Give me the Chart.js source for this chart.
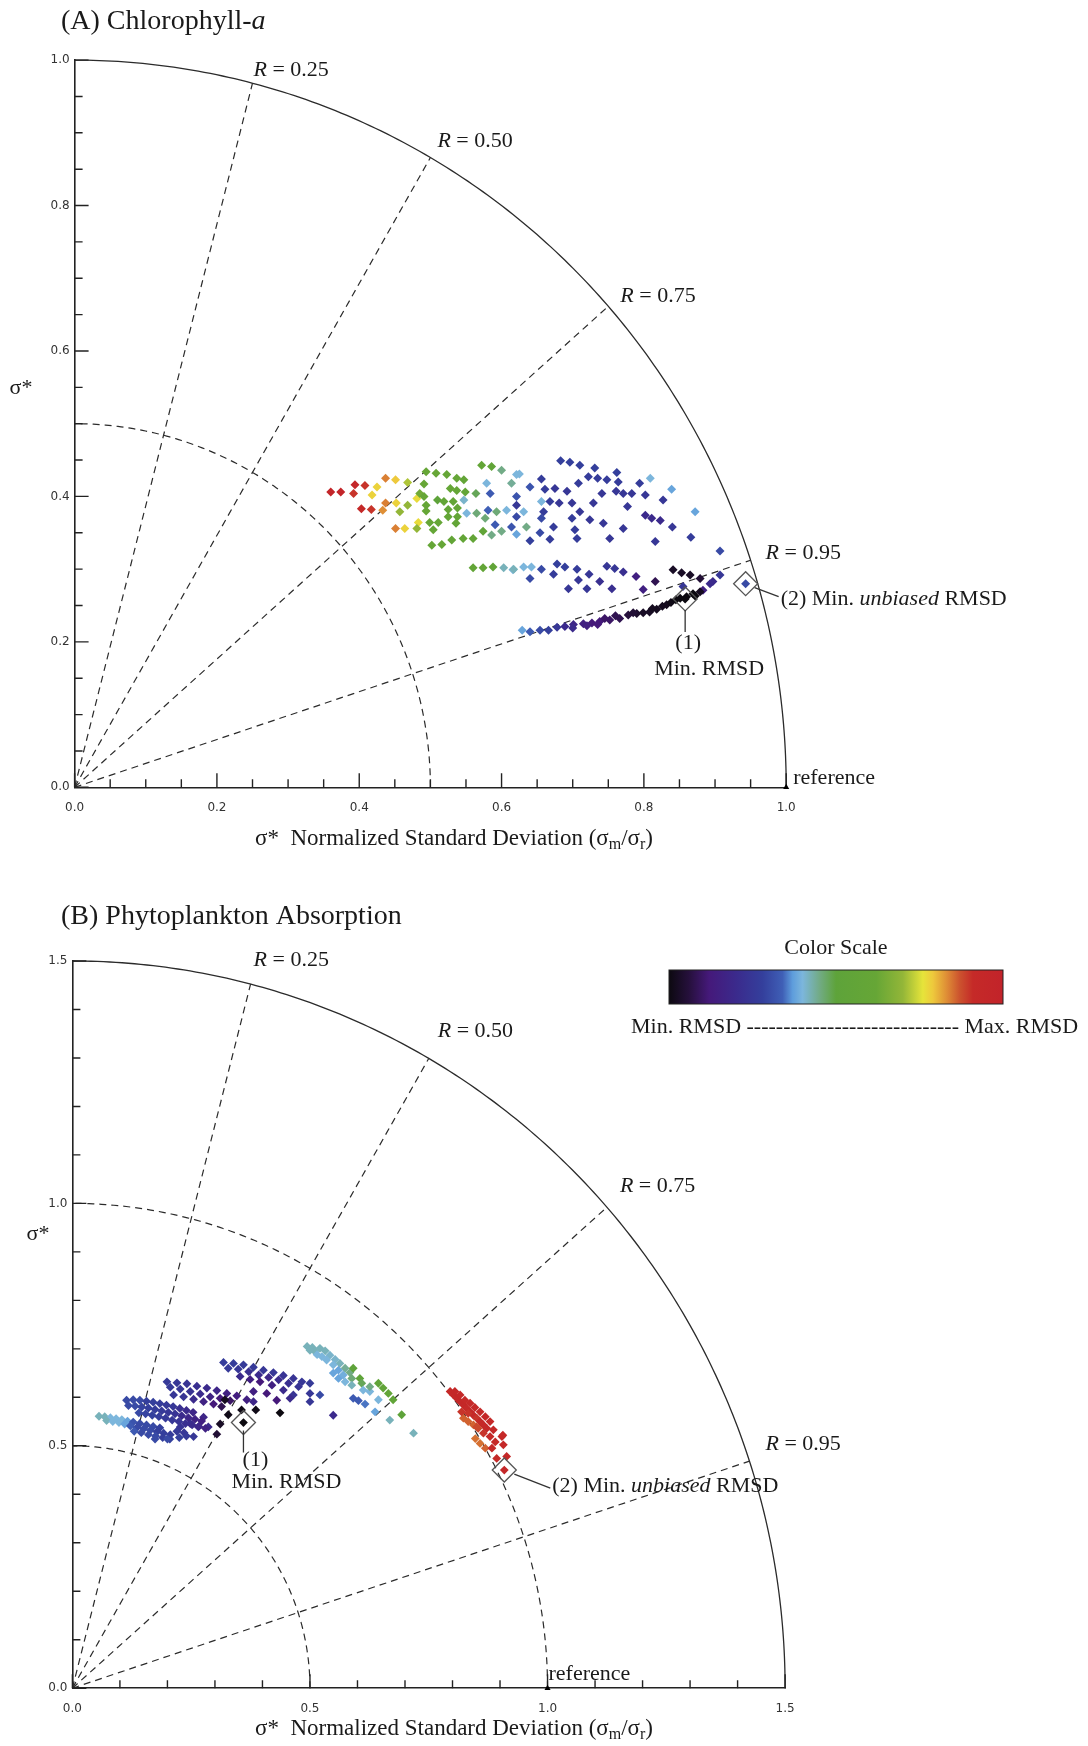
<!DOCTYPE html>
<html>
<head>
<meta charset="utf-8">
<title>Taylor diagrams – Chlorophyll-a / Phytoplankton Absorption</title>
<script src="https://cdn.jsdelivr.net/npm/chart.js@4.4.0/dist/chart.umd.min.js"></script>
<style>
  html, body { margin: 0; padding: 0; background: #fff; }
  .panel { position: absolute; left: 0; width: 1088px; }
  #panelA { top: 0; height: 870px; }
  #panelB { top: 870px; height: 876px; }
</style>
</head>
<body>
<div class="panel" id="panelA"><canvas id="chlChart" width="1088" height="870"></canvas></div>
<div class="panel" id="panelB"><canvas id="absChart" width="1088" height="876"></canvas></div>
<script>
// ============================================================
// Taylor diagrams: normalized std-dev vs correlation, coloured by RMSD
// ============================================================

// correlation rays and std-dev reference arcs
const CORRELATION_LEVELS = [0.25, 0.50, 0.75, 0.95];
const chlSigmaArcs = [0.5];
const absSigmaArcs = [0.5, 1.0];
const chlTickLabels = ['0.0', '0.2', '0.4', '0.6', '0.8', '1.0'];
const absTickLabels = ['0.0', '0.5', '1.0', '1.5'];

// RMSD colour scale (0 = min RMSD, 1 = max RMSD)
const COLOR_STOPS = [
  [0.00, '#0c0910'], [0.06, '#26103c'], [0.12, '#45197a'], [0.20, '#3b2a8c'],
  [0.28, '#343f9c'], [0.34, '#3f5fb6'], [0.37, '#5e9ddc'], [0.40, '#7cb6dc'],
  [0.45, '#72ab86'], [0.50, '#5ea33a'], [0.62, '#66a636'], [0.70, '#93b638'],
  [0.76, '#e6e43a'], [0.79, '#eec93c'], [0.83, '#df8f36'], [0.87, '#cc532e'],
  [0.91, '#c52a28'], [1.00, '#c2232a']
];

// ---- (A) Chlorophyll-a : [x, y, rmsd level] ----
const chlUpper = [
  [0.360,0.406,0.97],[0.374,0.406,0.97],[0.394,0.416,0.95],[0.408,0.415,0.90],[0.392,0.404,0.90],
  [0.403,0.383,0.93],[0.417,0.382,0.90],[0.437,0.425,0.84],[0.451,0.423,0.79],[0.425,0.413,0.78],
  [0.418,0.402,0.78],[0.437,0.391,0.84],[0.433,0.381,0.83],[0.452,0.391,0.78],[0.451,0.356,0.84],
  [0.464,0.356,0.78],[0.468,0.419,0.72],[0.457,0.379,0.70],[0.468,0.388,0.70],[0.481,0.397,0.77],
  [0.483,0.364,0.77],[0.481,0.356,0.70],[0.494,0.434,0.62],[0.508,0.432,0.62],[0.491,0.417,0.62],
  [0.485,0.404,0.64],[0.491,0.400,0.62],[0.494,0.388,0.60],[0.494,0.380,0.60],[0.499,0.364,0.60],
  [0.511,0.364,0.60],[0.504,0.354,0.60],[0.502,0.333,0.60],[0.516,0.334,0.60],[0.523,0.430,0.60],
  [0.537,0.425,0.60],[0.547,0.423,0.58],[0.528,0.411,0.60],[0.537,0.408,0.60],[0.549,0.406,0.58],
  [0.510,0.395,0.50],[0.519,0.393,0.58],[0.532,0.393,0.58],[0.525,0.382,0.58],[0.538,0.384,0.58],
  [0.525,0.372,0.58],[0.538,0.372,0.58],[0.536,0.363,0.58],[0.530,0.340,0.58],[0.546,0.342,0.58],
  [0.560,0.342,0.58],[0.572,0.443,0.58],[0.586,0.441,0.55],[0.600,0.436,0.45],[0.564,0.404,0.48],
  [0.547,0.395,0.41],[0.579,0.418,0.40],[0.584,0.404,0.33],[0.551,0.377,0.40],[0.565,0.377,0.46],
  [0.581,0.381,0.34],[0.593,0.379,0.46],[0.577,0.370,0.46],[0.591,0.361,0.33],[0.574,0.352,0.55],
  [0.586,0.347,0.45],[0.600,0.352,0.45],[0.621,0.430,0.40],[0.614,0.418,0.44],[0.621,0.400,0.32],
  [0.621,0.388,0.25],[0.607,0.381,0.40],[0.621,0.372,0.30],[0.614,0.358,0.32],
  [0.683,0.449,0.28],[0.696,0.447,0.28],[0.710,0.443,0.28],[0.731,0.439,0.28],[0.762,0.433,0.28],
  [0.625,0.431,0.40],[0.656,0.424,0.27],[0.722,0.427,0.27],[0.735,0.425,0.27],[0.748,0.423,0.27],
  [0.764,0.420,0.27],[0.794,0.418,0.27],[0.809,0.425,0.40],[0.708,0.418,0.27],[0.675,0.411,0.25],
  [0.661,0.410,0.27],[0.640,0.413,0.32],[0.692,0.407,0.25],[0.761,0.407,0.25],[0.771,0.404,0.25],
  [0.783,0.404,0.25],[0.741,0.404,0.25],[0.802,0.402,0.25],[0.839,0.410,0.38],[0.656,0.393,0.40],
  [0.668,0.393,0.27],[0.681,0.391,0.25],[0.699,0.391,0.25],[0.729,0.391,0.25],[0.777,0.386,0.25],
  [0.827,0.395,0.25],[0.872,0.379,0.38],[0.631,0.379,0.40],[0.659,0.379,0.27],[0.710,0.379,0.25],
  [0.802,0.374,0.20],[0.811,0.370,0.20],[0.823,0.367,0.20],[0.699,0.370,0.27],[0.724,0.368,0.25],
  [0.743,0.363,0.25],[0.656,0.370,0.30],[0.635,0.358,0.45],[0.673,0.358,0.27],[0.703,0.354,0.27],
  [0.771,0.356,0.25],[0.840,0.358,0.25],[0.621,0.348,0.38],[0.654,0.350,0.30],[0.640,0.339,0.28],
  [0.668,0.341,0.27],[0.706,0.342,0.27],[0.752,0.342,0.25],[0.816,0.338,0.25],[0.866,0.344,0.27],
  [0.907,0.325,0.30]
];
const chlMiddle = [
  [0.560,0.302,0.58],[0.574,0.302,0.58],[0.588,0.303,0.55],[0.603,0.302,0.42],[0.616,0.299,0.40],
  [0.617,0.300,0.42],[0.631,0.303,0.40],[0.642,0.303,0.40],[0.656,0.300,0.30],[0.678,0.307,0.28],
  [0.689,0.303,0.28],[0.706,0.300,0.27],[0.640,0.287,0.30],[0.673,0.293,0.27],[0.723,0.293,0.25],
  [0.748,0.304,0.25],[0.759,0.301,0.25],[0.771,0.296,0.22],[0.708,0.285,0.25],[0.738,0.283,0.22],
  [0.694,0.273,0.25],[0.720,0.273,0.25],[0.755,0.273,0.22],[0.789,0.290,0.15],[0.799,0.272,0.15],
  [0.816,0.283,0.08],[0.841,0.299,0.03],[0.853,0.295,0.03],[0.865,0.292,0.03],[0.879,0.287,0.05],
  [0.907,0.292,0.25],[0.893,0.280,0.20],[0.883,0.271,0.15],[0.855,0.276,0.25],[0.897,0.283,0.20]
];
const chlLower = [
  [0.629,0.216,0.38],[0.640,0.214,0.33],[0.654,0.216,0.30],[0.666,0.216,0.28],[0.678,0.220,0.25],
  [0.689,0.221,0.20],[0.701,0.224,0.18],[0.715,0.225,0.15],[0.727,0.226,0.12],[0.738,0.228,0.12],
  [0.752,0.230,0.10],[0.766,0.232,0.08],[0.778,0.237,0.06],[0.790,0.239,0.04],[0.799,0.240,0.03],
  [0.808,0.241,0.03],[0.818,0.245,0.02],[0.832,0.251,0.02],[0.851,0.260,0.00],[0.860,0.262,0.00],
  [0.869,0.266,0.00],[0.879,0.269,0.02],[0.745,0.232,0.10],[0.760,0.236,0.08],[0.785,0.240,0.05],
  [0.812,0.246,0.02],[0.826,0.249,0.02],[0.838,0.254,0.01],[0.845,0.258,0.00],[0.872,0.263,0.00],
  [0.700,0.219,0.20],[0.720,0.222,0.15],[0.735,0.224,0.12],[0.858,0.259,0.00],[0.943,0.280,0.30]
];
const chlMinRmsd = [0.858, 0.259];
const chlMinUnbiased = [0.943, 0.280];

// ---- (B) Phytoplankton absorption : [x, y, rmsd level] ----
const absMain = [
  [0.056,0.561,0.42],[0.068,0.560,0.42],[0.080,0.558,0.40],[0.092,0.556,0.40],[0.104,0.554,0.40],
  [0.116,0.551,0.38],[0.072,0.552,0.42],[0.085,0.550,0.40],[0.098,0.548,0.40],[0.110,0.545,0.38],
  [0.128,0.549,0.32],[0.142,0.546,0.30],[0.156,0.543,0.30],[0.170,0.540,0.30],[0.184,0.537,0.28],
  [0.122,0.541,0.33],[0.136,0.538,0.30],[0.150,0.535,0.30],[0.164,0.532,0.30],[0.178,0.529,0.28],
  [0.192,0.526,0.28],[0.206,0.523,0.27],[0.130,0.530,0.33],[0.145,0.527,0.30],[0.160,0.523,0.30],
  [0.175,0.520,0.30],[0.190,0.517,0.28],[0.205,0.514,0.28],[0.174,0.514,0.30],[0.200,0.514,0.30],
  [0.225,0.517,0.28],[0.255,0.519,0.25],[0.220,0.530,0.26],[0.235,0.527,0.25],[0.227,0.539,0.24],
  [0.248,0.546,0.22],[0.265,0.539,0.20],[0.276,0.559,0.18],[0.286,0.539,0.20],[0.240,0.520,0.26],
  [0.114,0.594,0.30],[0.128,0.595,0.30],[0.142,0.594,0.30],[0.156,0.592,0.28],[0.170,0.590,0.28],
  [0.184,0.587,0.27],[0.198,0.584,0.26],[0.212,0.581,0.25],[0.226,0.577,0.22],[0.240,0.573,0.20],
  [0.254,0.569,0.18],[0.118,0.583,0.30],[0.132,0.582,0.30],[0.146,0.580,0.29],[0.160,0.578,0.28],
  [0.174,0.575,0.27],[0.188,0.572,0.26],[0.202,0.569,0.25],[0.216,0.566,0.24],[0.230,0.562,0.20],
  [0.244,0.558,0.18],[0.258,0.555,0.16],[0.272,0.551,0.15],[0.140,0.568,0.30],[0.154,0.566,0.29],
  [0.168,0.563,0.28],[0.182,0.560,0.27],[0.196,0.557,0.26],[0.210,0.553,0.25],[0.224,0.550,0.24],
  [0.238,0.546,0.22],[0.252,0.543,0.20],[0.266,0.540,0.18],[0.280,0.536,0.16],
  [0.199,0.632,0.26],[0.220,0.630,0.25],[0.241,0.628,0.24],[0.262,0.623,0.22],[0.283,0.619,0.20],
  [0.304,0.614,0.18],[0.325,0.608,0.15],[0.346,0.603,0.14],[0.367,0.595,0.15],[0.381,0.591,0.18],
  [0.206,0.621,0.26],[0.227,0.617,0.25],[0.248,0.612,0.23],[0.269,0.607,0.20],[0.290,0.601,0.16],
  [0.311,0.598,0.12],[0.332,0.593,0.10],[0.213,0.605,0.25],[0.234,0.601,0.24],[0.255,0.596,0.20],
  [0.276,0.591,0.16],[0.297,0.586,0.12],[0.314,0.581,0.08],
  [0.321,0.595,0.02],[0.356,0.574,0.01],[0.386,0.574,0.01],[0.437,0.568,0.00],[0.328,0.564,0.01],
  [0.311,0.545,0.03],[0.304,0.524,0.05],[0.360,0.548,0.00],
  [0.318,0.672,0.27],[0.339,0.670,0.27],[0.360,0.667,0.26],[0.381,0.662,0.26],[0.402,0.656,0.25],
  [0.423,0.651,0.25],[0.444,0.645,0.24],[0.465,0.639,0.24],[0.483,0.632,0.25],[0.500,0.629,0.26],
  [0.328,0.660,0.26],[0.349,0.658,0.25],[0.371,0.653,0.22],[0.392,0.646,0.20],[0.413,0.641,0.18],
  [0.434,0.636,0.20],[0.455,0.629,0.22],[0.476,0.622,0.24],[0.353,0.643,0.20],[0.374,0.637,0.15],
  [0.395,0.632,0.12],[0.420,0.625,0.15],[0.444,0.615,0.20],[0.465,0.605,0.24],[0.500,0.608,0.25],
  [0.521,0.605,0.30],[0.500,0.591,0.25],[0.381,0.612,0.15],[0.409,0.608,0.12],[0.430,0.594,0.12],
  [0.458,0.598,0.20],[0.549,0.563,0.20]
];
const absCyan = [
  [0.494,0.705,0.42],[0.505,0.703,0.42],[0.510,0.695,0.42],[0.515,0.688,0.40],[0.500,0.697,0.42],
  [0.521,0.701,0.42],[0.532,0.696,0.42],[0.542,0.687,0.41],[0.553,0.678,0.41],[0.563,0.670,0.42],
  [0.574,0.660,0.44],[0.584,0.651,0.45],[0.525,0.684,0.40],[0.535,0.677,0.40],[0.549,0.667,0.40],
  [0.560,0.656,0.38],[0.570,0.646,0.39],[0.588,0.639,0.46],[0.549,0.650,0.38],[0.560,0.639,0.38],
  [0.574,0.632,0.40],[0.588,0.625,0.42],[0.591,0.660,0.50],[0.605,0.639,0.52],[0.609,0.629,0.48],
  [0.644,0.629,0.55],[0.654,0.619,0.55],[0.665,0.608,0.56],[0.675,0.595,0.55],[0.693,0.564,0.50],
  [0.591,0.598,0.33],[0.602,0.593,0.33],[0.616,0.586,0.35],[0.637,0.570,0.38],[0.612,0.615,0.40],
  [0.626,0.612,0.40],[0.644,0.595,0.40],[0.668,0.553,0.42],[0.718,0.526,0.42],[0.626,0.622,0.45]
];
const absRed = [
  [0.795,0.612,0.92],[0.802,0.605,0.92],[0.809,0.598,0.93],[0.816,0.591,0.93],[0.823,0.584,0.93],
  [0.830,0.577,0.92],[0.837,0.570,0.92],[0.844,0.563,0.92],[0.851,0.557,0.90],[0.858,0.550,0.92],
  [0.865,0.543,0.92],[0.872,0.536,0.93],[0.805,0.612,0.93],[0.816,0.605,0.93],[0.826,0.594,0.92],
  [0.837,0.588,0.92],[0.847,0.579,0.92],[0.858,0.570,0.92],[0.869,0.560,0.93],[0.879,0.550,0.92],
  [0.886,0.533,0.93],[0.904,0.519,0.93],[0.907,0.502,0.93],[0.890,0.508,0.92],[0.914,0.478,0.93],
  [0.893,0.474,0.92],[0.906,0.522,0.92],[0.823,0.557,0.86],[0.833,0.550,0.86],[0.844,0.543,0.86],
  [0.854,0.536,0.88],[0.848,0.515,0.85],[0.858,0.505,0.85],[0.869,0.495,0.86],[0.819,0.570,0.90],
  [0.833,0.567,0.90],[0.851,0.539,0.88],[0.865,0.526,0.90],[0.879,0.519,0.92],[0.883,0.495,0.93],
  [0.909,0.450,0.95]
];
const absMinRmsd = [0.360, 0.548];
const absMinUnbiased = [0.909, 0.450];

const SERIF = "'Liberation Serif', 'Times New Roman', serif";

// ---- colour utilities ----
function hexToRgb(h) {
  const n = parseInt(h.slice(1), 16);
  return [(n >> 16) & 255, (n >> 8) & 255, n & 255];
}
function rmsdColor(t) {
  for (let i = 1; i < COLOR_STOPS.length; i++) {
    const [t1, c1] = COLOR_STOPS[i];
    if (t <= t1) {
      const [t0, c0] = COLOR_STOPS[i - 1];
      const f = (t - t0) / (t1 - t0);
      const a = hexToRgb(c0), b = hexToRgb(c1);
      return `rgb(${a.map((v, k) => Math.round(v + (b[k] - v) * f)).join(',')})`;
    }
  }
  return COLOR_STOPS[COLOR_STOPS.length - 1][1];
}

// ---- text helpers ----
function drawRuns(ctx, runs, x, y, align) {
  // runs: [text, italic, sizePx, dy]
  let w = 0;
  runs.forEach(r => { ctx.font = `${r[1] ? 'italic ' : ''}${r[2]}px ${SERIF}`; w += ctx.measureText(r[0]).width; });
  let cx = align === 'center' ? x - w / 2 : x;
  ctx.textAlign = 'left';
  runs.forEach(r => {
    ctx.font = `${r[1] ? 'italic ' : ''}${r[2]}px ${SERIF}`;
    ctx.fillText(r[0], cx, y + (r[3] || 0));
    cx += ctx.measureText(r[0]).width;
  });
}

// ---- Taylor frame plugin: arcs, rays, inward ticks, labels ----
const taylorFrame = {
  id: 'taylorFrame',
  beforeDatasetsDraw(chart, args, o) {
    const { ctx, chartArea } = chart;
    const xs = chart.scales.x, ys = chart.scales.y;
    const P = (x, y) => [xs.getPixelForValue(x), ys.getPixelForValue(y)];
    const arc = r => {
      ctx.beginPath();
      for (let i = 0; i <= 180; i++) {
        const th = (Math.PI / 2) * i / 180;
        const [px, py] = P(r * Math.cos(th), r * Math.sin(th));
        if (i === 0) ctx.moveTo(px, py); else ctx.lineTo(px, py);
      }
      ctx.stroke();
    };
    ctx.save();
    ctx.strokeStyle = '#2b2b2b';
    ctx.lineWidth = 1.2;
    ctx.setLineDash([7, 5]);
    o.sigmaArcs.forEach(arc);
    o.correlations.forEach(R => {
      const th = Math.acos(R);
      const [x0, y0] = P(0, 0);
      const [x1, y1] = P(o.rMax * Math.cos(th), o.rMax * Math.sin(th));
      ctx.beginPath(); ctx.moveTo(x0, y0); ctx.lineTo(x1, y1); ctx.stroke();
    });
    ctx.setLineDash([]);
    ctx.lineWidth = 1.3;
    arc(o.rMax);

    // inward tick marks on both axes
    ctx.strokeStyle = '#222';
    ctx.lineWidth = 1.4;
    const n = Math.round(o.rMax / o.minorStep);
    const every = Math.round(o.majorStep / o.minorStep);
    for (let i = 0; i <= n; i++) {
      const v = i * o.minorStep;
      const len = i % every === 0 ? 14 : 8;
      const px = xs.getPixelForValue(v), py = ys.getPixelForValue(v);
      ctx.beginPath();
      ctx.moveTo(px, chartArea.bottom); ctx.lineTo(px, chartArea.bottom - len);
      ctx.moveTo(chartArea.left, py); ctx.lineTo(chartArea.left + len, py);
      ctx.stroke();
    }
    ctx.restore();
  },
  afterDatasetsDraw(chart, args, o) {
    const { ctx } = chart;
    const xs = chart.scales.x, ys = chart.scales.y;
    const P = (x, y) => [xs.getPixelForValue(x), ys.getPixelForValue(y)];
    ctx.save();
    ctx.fillStyle = '#1a1a1a';
    ctx.strokeStyle = '#333';
    ctx.textBaseline = 'middle';

    // panel title
    drawRuns(ctx, o.title.map(t => [t[0], t[1], 28]), o.titlePos[0], o.titlePos[1], 'left');

    // correlation labels at the ends of the rays
    o.correlations.forEach((R, i) => {
      const th = Math.acos(R);
      const [ex, ey] = P(o.rMax * Math.cos(th), o.rMax * Math.sin(th));
      const [dx, dy] = o.rLabelOffsets[i];
      drawRuns(ctx, [['R', true, 22], [' = ' + R.toFixed(2), false, 22]], ex + dx, ey + dy, 'left');
    });

    // reference point label
    const [rx, ry] = P(1, 0);
    drawRuns(ctx, [['reference', false, 22]], rx + o.refLabelOffset[0], ry + o.refLabelOffset[1], 'left');

    // (1) minimum RMSD
    const m = o.minMark;
    const [mx, my] = P(m.pt[0], m.pt[1]);
    ctx.lineWidth = 1.3;
    ctx.beginPath();
    ctx.moveTo(mx + m.lead[0][0], my + m.lead[0][1]);
    ctx.lineTo(mx + m.lead[1][0], my + m.lead[1][1]);
    ctx.stroke();
    drawRuns(ctx, [['(1)', false, 22]], mx + m.num[0], my + m.num[1], 'center');
    drawRuns(ctx, [['Min. RMSD', false, 22]], mx + m.text[0], my + m.text[1], 'center');

    // (2) minimum unbiased RMSD
    const u = o.unbMark;
    const [ux, uy] = P(u.pt[0], u.pt[1]);
    ctx.beginPath();
    ctx.moveTo(ux + u.lead[0][0], uy + u.lead[0][1]);
    ctx.lineTo(ux + u.lead[1][0], uy + u.lead[1][1]);
    ctx.stroke();
    drawRuns(ctx, [['(2) Min. ', false, 22], ['unbiased', true, 22], [' RMSD', false, 22]],
      ux + u.text[0], uy + u.text[1], 'left');

    // axis titles
    drawRuns(ctx, [['σ*', false, 22]], o.yTitlePos[0], o.yTitlePos[1], 'center');
    drawRuns(ctx, [
      ['σ*  Normalized Standard Deviation (σ', false, 23],
      ['m', false, 16, 6], ['/σ', false, 23], ['r', false, 16, 6], [')', false, 23]
    ], o.xTitlePos[0], o.xTitlePos[1], 'center');

    // colour scale legend
    if (o.colorBar) {
      const b = o.colorBar;
      const g = ctx.createLinearGradient(b.x0, 0, b.x1, 0);
      COLOR_STOPS.forEach(([t, c]) => g.addColorStop(t, c));
      ctx.fillStyle = g;
      ctx.fillRect(b.x0, b.y0, b.x1 - b.x0, b.y1 - b.y0);
      ctx.lineWidth = 1;
      ctx.strokeStyle = '#222';
      ctx.strokeRect(b.x0, b.y0, b.x1 - b.x0, b.y1 - b.y0);
      ctx.fillStyle = '#1a1a1a';
      drawRuns(ctx, [['Color Scale', false, 22]], (b.x0 + b.x1) / 2, b.y0 - 22, 'center');
      drawRuns(ctx, [['Min. RMSD ' + '-'.repeat(29) + ' Max. RMSD', false, 22]], b.textX, b.y1 + 23, 'left');
    }
    ctx.restore();
  }
};

function buildChart(canvasId, cfg) {
  const all = cfg.points;
  const tickFont = { family: "'DejaVu Sans', sans-serif", size: 12 };
  const scale = (labels, yAxis) => ({
    type: 'linear',
    min: 0,
    max: cfg.rMax,
    border: { display: true, color: '#222', width: 1.6 },
    grid: { display: false, drawTicks: false },
    ticks: {
      stepSize: cfg.majorStep,
      autoSkip: false,
      maxRotation: 0,
      padding: yAxis ? 5 : 13,
      color: '#333',
      font: tickFont,
      callback: (v, i) => labels[i]
    },
    afterFit: yAxis ? s => { s.width = cfg.area.left; } : s => { s.height = 40; }
  });
  return new Chart(document.getElementById(canvasId), {
    type: 'scatter',
    data: {
      datasets: [
        {
          // hollow markers around the two best runs
          data: [cfg.minRmsd, cfg.minUnbiased].map(([x, y]) => ({ x, y })),
          pointStyle: 'rectRot',
          pointRadius: 12,
          pointBackgroundColor: 'rgba(0,0,0,0)',
          pointBorderColor: '#555',
          pointBorderWidth: 1.3,
          clip: false
        },
        {
          data: all.map(([x, y]) => ({ x, y })),
          pointStyle: 'rectRot',
          pointRadius: cfg.markerRadius,
          pointBackgroundColor: all.map(p => rmsdColor(p[2])),
          pointBorderWidth: 0,
          clip: false
        },
        {
          // reference point on the x axis
          data: [{ x: 1, y: 0 }],
          pointStyle: 'triangle',
          pointRadius: 3.5,
          pointBackgroundColor: '#000',
          pointBorderWidth: 0,
          clip: false
        }
      ]
    },
    options: {
      responsive: false,
      animation: false,
      events: [],
      layout: {
        padding: {
          left: 0,
          top: cfg.area.top,
          right: cfg.width - cfg.area.right,
          bottom: cfg.height - cfg.area.bottom - 40
        }
      },
      scales: { x: scale(cfg.tickLabels, false), y: scale(cfg.tickLabels, true) },
      plugins: {
        legend: { display: false },
        tooltip: { enabled: false },
        taylorFrame: cfg.frame
      }
    },
    plugins: [taylorFrame]
  });
}

buildChart('chlChart', {
  width: 1088, height: 870,
  area: { left: 74.6, top: 60.1, right: 786.2, bottom: 787.3 },
  rMax: 1, majorStep: 0.2,
  tickLabels: chlTickLabels,
  markerRadius: 4.5,
  points: [...chlUpper, ...chlMiddle, ...chlLower],
  minRmsd: chlMinRmsd, minUnbiased: chlMinUnbiased,
  frame: {
    rMax: 1, majorStep: 0.2, minorStep: 0.05,
    sigmaArcs: chlSigmaArcs, correlations: CORRELATION_LEVELS,
    rLabelOffsets: [[1, -13], [7, -16], [12, -10], [15, -7]],
    title: [['(A) Chlorophyll-', false], ['a', true]], titlePos: [61, 22],
    yTitlePos: [21, 388], xTitlePos: [454, 839],
    refLabelOffset: [7, -9],
    minMark: { pt: chlMinRmsd, lead: [[0, 11], [0, 33]], num: [3, 44], text: [24, 70] },
    unbMark: { pt: chlMinUnbiased, lead: [[9, 4], [33, 13]], text: [35, 16] },
    colorBar: null
  }
});

buildChart('absChart', {
  width: 1088, height: 876,
  area: { left: 72.4, top: 91, right: 785.1, bottom: 818.2 },
  rMax: 1.5, majorStep: 0.5,
  tickLabels: absTickLabels,
  markerRadius: 4.4,
  points: [...absMain, ...absCyan, ...absRed],
  minRmsd: absMinRmsd, minUnbiased: absMinUnbiased,
  frame: {
    rMax: 1.5, majorStep: 0.5, minorStep: 0.1,
    sigmaArcs: absSigmaArcs, correlations: CORRELATION_LEVELS,
    rLabelOffsets: [[3, -24], [9, -27], [13, -21], [16, -17]],
    title: [['(B) Phytoplankton Absorption', false]], titlePos: [61, 47],
    yTitlePos: [38, 364], xTitlePos: [454, 859],
    refLabelOffset: [1, -14],
    minMark: { pt: absMinRmsd, lead: [[0, 8], [0, 30]], num: [12, 38], text: [43, 60] },
    unbMark: { pt: absMinUnbiased, lead: [[10, 4], [46, 18]], text: [48, 16] },
    colorBar: { x0: 669, x1: 1003, y0: 100, y1: 134, textX: 631 }
  }
});
</script>
</body>
</html>
